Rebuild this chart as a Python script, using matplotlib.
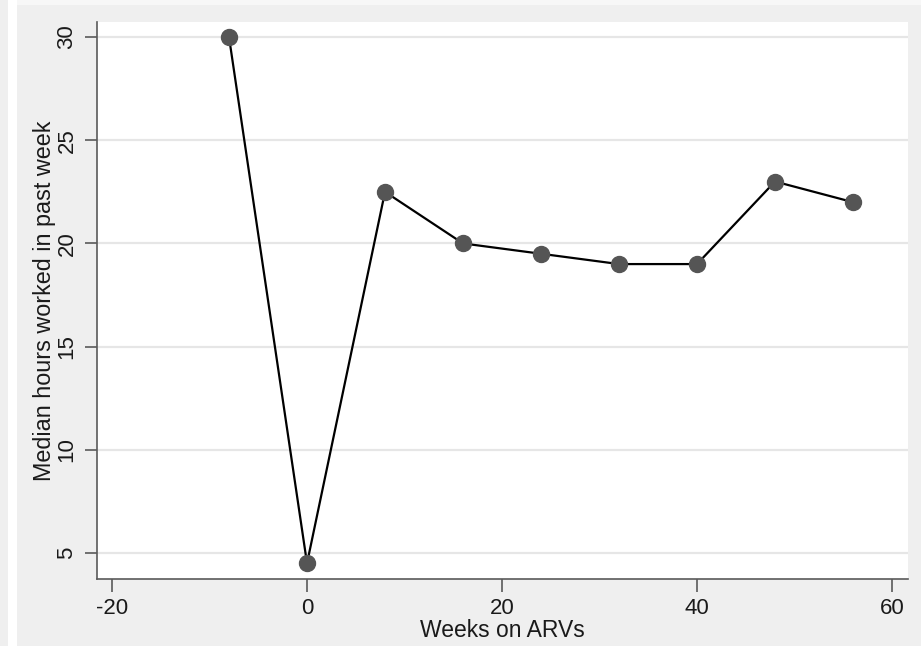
import numpy as np
import matplotlib
matplotlib.use("Agg")
import matplotlib.pyplot as plt
from matplotlib.patches import Rectangle

# data
weeks = [-8, 0, 8, 16, 24, 32, 40, 48, 56]
hours = [30, 4.5, 22.5, 20, 19.5, 19, 19, 23, 22]
xticks = [-20, 0, 20, 40, 60]
yticks = [5, 10, 15, 20, 25, 30]

plt.rcParams['font.family'] = ['Liberation Sans', 'DejaVu Sans']
plt.rcParams['axes.unicode_minus'] = False

fig = plt.figure(figsize=(9.21, 6.46), dpi=100, facecolor='#efefef')
# thin white strips at the left and top edge of the screenshot
fig.patches.append(Rectangle((8 / 921, 0), 9 / 921, 1, transform=fig.transFigure,
                             facecolor='white', edgecolor='none', zorder=-1))
fig.patches.append(Rectangle((17 / 921, 1 - 5 / 646), 1, 5 / 646, transform=fig.transFigure,
                             facecolor='#f7f7f7', edgecolor='none', zorder=-1))

ax = fig.add_axes([97 / 921, 1 - 579 / 646, 811 / 921, 557 / 646])
ax.set_facecolor('white')

ax.plot(weeks, hours, color='black', lw=1.6, marker='o', ms=11.5,
        mfc='#555555', mec='#555555', zorder=3)

ax.set_xlim(-21.54, 61.64)
ax.set_ylim(3.74, 30.73)
ax.set_xticks(xticks)
ax.set_yticks(yticks)
ax.grid(axis='y', color='#e6e6e6', lw=1.6)
ax.set_axisbelow(True)

for s in ['top', 'right']:
    ax.spines[s].set_visible(False)
for s in ['left', 'bottom']:
    ax.spines[s].set_color('#5a5a5a')
    ax.spines[s].set_linewidth(1.2)

ax.tick_params(axis='both', length=9, width=1.2, color='#5a5a5a',
               labelsize=16, labelcolor='#1a1a1a', pad=5)
plt.setp(ax.get_yticklabels(), rotation=90, va='center')

ax.set_xlabel('Weeks on ARVs', fontsize=16.5, color='#1a1a1a', labelpad=0)
ax.set_ylabel('Median hours worked in past week', fontsize=16.8, color='#1a1a1a')
ax.yaxis.set_label_coords(-0.051, 0.5)

fig.savefig('out.png', dpi=100, facecolor=fig.get_facecolor())
